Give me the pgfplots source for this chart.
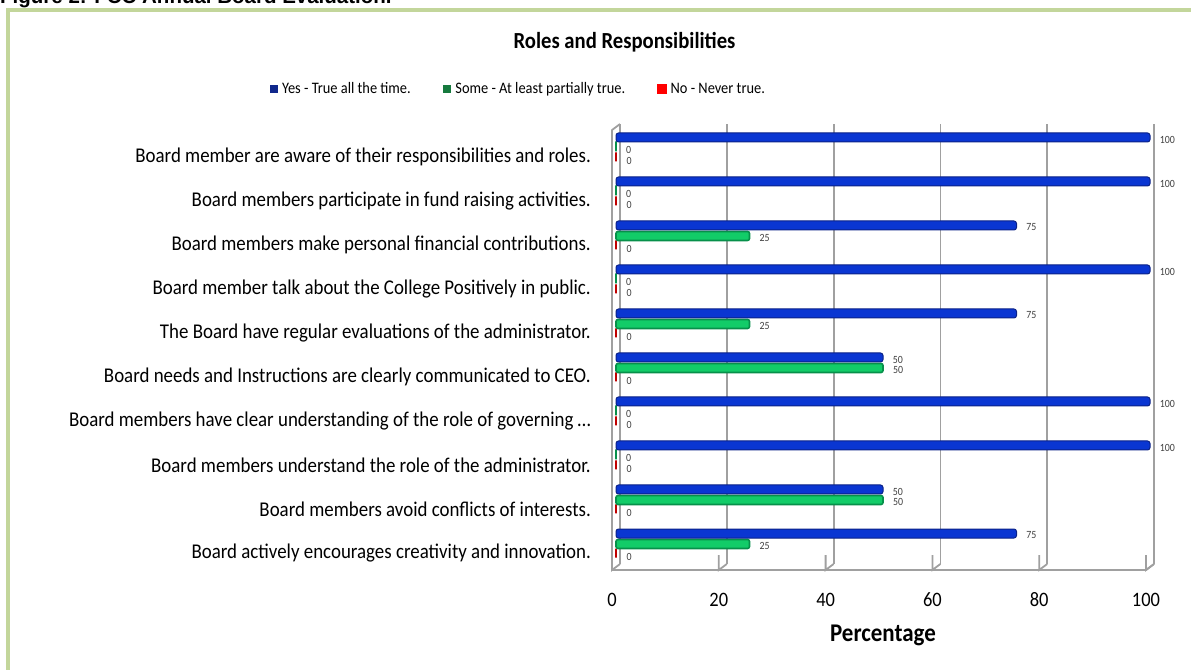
\documentclass[border=0pt]{standalone}
\usepackage{fontspec}
\setmainfont{Carlito}[FakeStretch=0.9]
\newfontfamily\figfont{Liberation Sans}
\usepackage{pgfplots}
\usepackage{pgfplotstable}
\pgfplotsset{compat=1.18}

\definecolor{framegreen}{HTML}{C3D69B}
\definecolor{gridgray}{HTML}{A0A0A0}
\definecolor{barblue}{HTML}{0A36D2}
\definecolor{barbluedk}{HTML}{0A2288}
\definecolor{bargreen}{HTML}{12CC68}
\definecolor{bargreendk}{HTML}{07904A}
\definecolor{barred}{HTML}{C00000}
\definecolor{legblue}{HTML}{10288C}
\definecolor{leggreen}{HTML}{167A3E}
\definecolor{legred}{HTML}{FF0000}

% rows from bottom (0) to top (9)
\pgfplotstableread{
idx yes some no
0 75 25 0
1 50 50 0
2 100 0 0
3 100 0 0
4 50 50 0
5 75 25 0
6 100 0 0
7 75 25 0
8 100 0 0
9 100 0 0
}\evaltable

\begin{document}
\begin{tikzpicture}
\useasboundingbox (0,0) rectangle (1191bp,670bp);
\clip (0,0) rectangle (1191bp,670bp);

% frame and clipped figure caption
\draw[framegreen, line width=4bp] (8bp,-20bp) -- (8bp,660bp) -- (1220bp,660bp);
\node[anchor=base west, inner sep=0pt, font=\figfont\bfseries\fontsize{20.5bp}{22bp}\selectfont]
  at (0bp,666bp) {Figure 2: FCC Annual Board Evaluation.};

% chart title
\node[font=\bfseries\fontsize{23bp}{25bp}\selectfont, inner sep=0pt] at (624.5bp,628bp) {Roles and Responsibilities};

\begin{axis}[
  at={(616bp,106bp)}, anchor=south west,
  scale only axis, width=534bp, height=440bp,
  xmin=0, xmax=100,
  ymin=-0.4545, ymax=9.545,
  clip=false,
  xbar,
  bar width=9bp,
  axis line style={draw=none},
  major tick length=0pt,
  xtick={0,20,...,100},
  ytick={0,...,9},
  yticklabels={
    Board actively encourages creativity and innovation.,
    Board members avoid conflicts of interests.,
    Board members understand the role of the administrator.,
    Board members have clear understanding of the role of governing …,
    Board needs and Instructions are clearly communicated to CEO.,
    The Board have regular evaluations of the administrator.,
    Board member talk about the College Positively in public.,
    Board members make personal financial contributions.,
    Board members participate in fund raising activities.,
    Board member are aware of their responsibilities and roles.},
  /pgf/number format/assume math mode=true,
  xmajorgrids,
  major grid style={gridgray, line width=1.8bp, xshift=4bp},
  xticklabel style={inner sep=0pt, anchor=center, xshift=-4bp, yshift=-36bp,
    font=\fontsize{20.5bp}{22bp}\selectfont},
  yticklabel style={inner sep=0pt, anchor=east, xshift=-25bp, yshift=-9bp,
    font=\fontsize{21bp}{23bp}\selectfont},
  xlabel={Percentage},
  xlabel style={at={(axis description cs:0.5,0)}, anchor=center, yshift=-71bp,
    font=\bfseries\fontsize{25.5bp}{27bp}\selectfont},
  nodes near coords,
  every node near coord/.append style={font=\fontsize{11bp}{12bp}\selectfont,
    text=black!75, anchor=west, xshift=6bp, yshift=-2bp},
  legend columns=-1,
  reverse legend,
  legend image code/.code={\fill[#1, sharp corners] (0bp,-3.5bp) rectangle (7bp,3.5bp);},
  legend style={at={(-0.1845,1.0795)}, anchor=center, draw=none, fill=none,
    inner sep=0pt, font=\fontsize{16bp}{18bp}\selectfont,
    nodes={inner sep=0pt, anchor=west},
    /tikz/every odd column/.append style={column sep=4bp},
    /tikz/every even column/.append style={column sep=32bp}},
]
\addplot[bar shift=-10.5bp, draw=barred, line width=2.5bp, fill=barred,
  rounded corners=1.5bp, legend image post style={legred, draw=none}]
  table[x=no, y=idx] {\evaltable};
\addlegendentry{No - Never true.}
\addplot[bar shift=0bp, draw=bargreendk, fill=bargreen, line width=1.6bp, rounded corners=2bp,
  legend image post style={leggreen, draw=none}]
  table[x=some, y=idx] {\evaltable};
\addlegendentry{Some - At least partially true.}
\addplot[bar shift=10.5bp, draw=barbluedk, fill=barblue, line width=1bp, rounded corners=2.5bp,
  legend image post style={legblue, draw=none}]
  table[x=yes, y=idx] {\evaltable};
\addlegendentry{Yes - True all the time.}

% pseudo-3D walls: front edge, floor, and tick marks
\draw[gridgray, line width=1.8bp, line join=round]
  ([xshift=4bp]rel axis cs:0,1) -- ([xshift=-4bp,yshift=-6bp]rel axis cs:0,1)
  -- ([xshift=-4bp,yshift=-6bp]rel axis cs:0,0)
  -- ([xshift=-4bp,yshift=-6bp]rel axis cs:1,0) -- ([xshift=4bp]rel axis cs:1,0);
\pgfplotsinvokeforeach{0,20,40,60,80,100}{
  \draw[gridgray, line width=1.8bp]
    ([xshift=4bp]axis cs:#1,-0.4545) -- ([xshift=-4bp,yshift=-6bp]axis cs:#1,-0.4545)
    -- ++(0,-5bp);
}
\end{axis}
\end{tikzpicture}
\end{document}
